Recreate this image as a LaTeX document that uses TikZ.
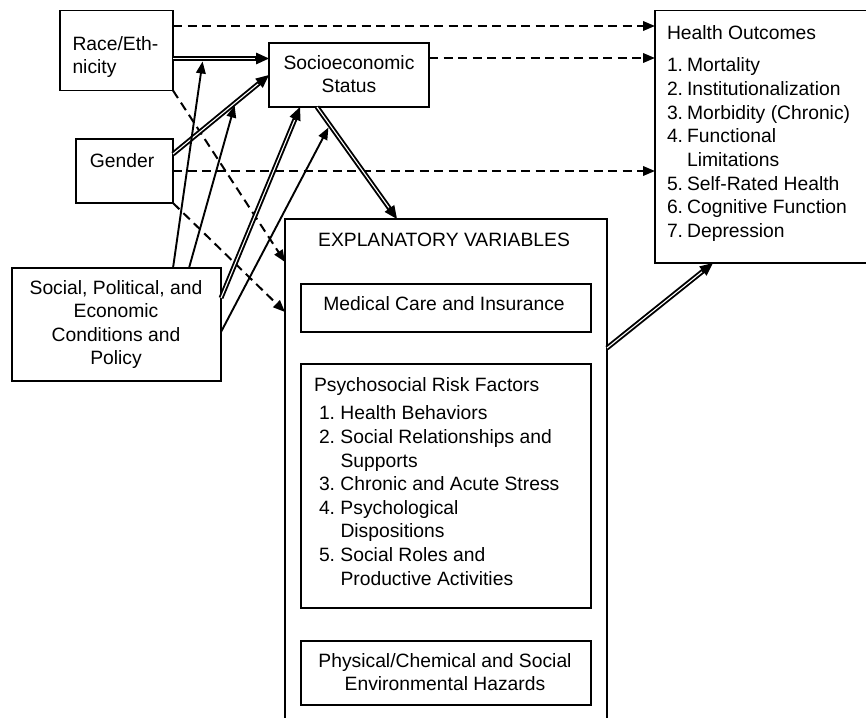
\documentclass[tikz,border=0pt]{standalone}
\usepackage{fontspec}
\setmainfont{Liberation Sans}
\usetikzlibrary{arrows.meta,calc}

% double-shafted connector: two-line shaft, then a solid head on top
\newcommand\dblconn[2]{%
  \draw[dblline] #1 -- #2;
  \draw[dbltip] ($#2!14pt!#1$) -- #2;}

\begin{document}
\begin{tikzpicture}[x=1pt,y=1pt,
  every node/.style={inner sep=0pt, outer sep=0pt,
    font=\fontsize{19.3}{23.6}\selectfont},
  box/.style={draw, line width=1.7pt, rectangle},
  head/.style={-{Triangle[length=12pt,width=9.5pt]}},
  dashconn/.style={head, line width=2pt, dash pattern=on 9pt off 5.5pt},
  solidconn/.style={head, line width=1.9pt, shorten >=3pt},
  dblline/.style={double, double distance=1.1pt, line width=1.9pt, shorten >=10pt},
  dbltip/.style={-{Triangle[length=13pt,width=11.5pt]}, line width=1.5pt},
]
\path[use as bounding box, clip] (0,0) rectangle (866,-717);
\fill[white] (0,0) rectangle (866,-717);

% boxes
\node[box, minimum width=113pt, minimum height=80pt]   (race)   at (116.5,-50.5) {};
\node[box, minimum width=160pt, minimum height=64pt]   (ses)    at (349,-75) {};
\node[box, minimum width=97pt,  minimum height=64pt]   (gender) at (124.5,-171) {};
\node[box, minimum width=209pt, minimum height=113pt]  (social) at (116.5,-324.5) {};
\node[box, minimum width=322pt, minimum height=511pt]  (expl)   at (446,-474.5) {};
\node[box, minimum width=290pt, minimum height=48pt]   (medical) at (446,-308) {};
\node[box, minimum width=290pt, minimum height=244pt]  (psycho) at (446,-486) {};
\node[box, minimum width=290pt, minimum height=64pt]   (physical) at (446,-673) {};
\node[box, minimum width=225pt, minimum height=252.5pt] (ho)    at (767.5,-136.75) {};

% labels
\node[anchor=base west] (racet) at (72.5,-50)
  {\begin{tabular}[t]{@{}l@{}}Race/Eth-\\nicity\end{tabular}};
\node[anchor=base] (sest) at (349,-69)
  {\begin{tabular}[t]{@{}c@{}}Socioeconomic\\Status\end{tabular}};
\node[anchor=base] (gendert) at (122,-167) {Gender};
\node[anchor=base] (socialt) at (116,-294)
  {\begin{tabular}[t]{@{}c@{}}Social, Political, and\\Economic\\Conditions and\\Policy\end{tabular}};
\node[anchor=base] (explt) at (444,-246) {EXPLANATORY VARIABLES};
\node[anchor=base] (medicalt) at (444,-310) {Medical Care and Insurance};
\node[anchor=base west] (psychot) at (314,-391)
  {\begin{tabular}[t]{@{\hspace{5pt}}l@{\hspace{5.4pt}}l@{}}
   \multicolumn{2}{@{}l@{}}{Psychosocial Risk Factors}\\[5.3pt]
   1.&Health Behaviors\\
   2.&Social Relationships and\\
     &Supports\\
   3.&Chronic and Acute Stress\\
   4.&Psychological\\
     &Dispositions\\
   5.&Social Roles and\\
     &Productive Activities
   \end{tabular}};
\node[anchor=base] (physicalt) at (445,-667)
  {\begin{tabular}[t]{@{}c@{}}Physical/Chemical and Social\\Environmental Hazards\end{tabular}};
\node[anchor=base west] (hot) at (667,-40)
  {\begin{tabular}[t]{@{}l@{\hspace{4pt}}l@{}}
   \multicolumn{2}{@{}l@{}}{Health Outcomes}\\[8.4pt]
   1.&Mortality\\
   2.&Institutionalization\\
   3.&Morbidity (Chronic)\\
   4.&Functional\\
     &Limitations\\
   5.&Self-Rated Health\\
   6.&Cognitive Function\\
   7.&Depression
   \end{tabular}};

% dashed direct effects
\draw[dashconn] ([yshift=-15.5pt]race.north east) -- ([yshift=-15.5pt]ho.north west);
\draw[dashconn] ([yshift=-15pt]ses.north east) -- ([yshift=-47.5pt]ho.north west);
\draw[dashconn] (gender.east) -- ([yshift=-160.5pt]ho.north west);
\draw[dashconn] (race.south east) -- ([yshift=-43pt]expl.north west);
\draw[dashconn] (gender.south east) -- ([yshift=-93pt]expl.north west);

% double-shafted main paths
\dblconn{([yshift=-8pt]race.east)}{([yshift=16.5pt]ses.west)}
\dblconn{([yshift=-15pt]gender.north east)}{(ses.west)}
\dblconn{([yshift=-30pt]social.north east)}{([xshift=31pt]ses.south west)}
\dblconn{([xshift=48pt]ses.south west)}{([xshift=112pt]expl.north west)}
\dblconn{([yshift=-129pt]expl.north east)}{([xshift=58pt]ho.south west)}

% points on the main paths that the conditions act on
\coordinate (onrace) at ($([yshift=-8pt]race.east)!0.3125!([yshift=16.5pt]ses.west)$);
\coordinate (ongender) at ($([yshift=-15pt]gender.north east)!0.65!(ses.west)$);
\coordinate (onses) at ($([xshift=48pt]ses.south west)!0.16!([xshift=112pt]expl.north west)$);

\draw[solidconn] ([xshift=161pt]social.north west) -- (onrace);
\draw[solidconn] ([xshift=177pt]social.north west) -- (ongender);
\draw[solidconn] ([yshift=-64pt]social.north east) -- (onses);
\end{tikzpicture}
\end{document}
